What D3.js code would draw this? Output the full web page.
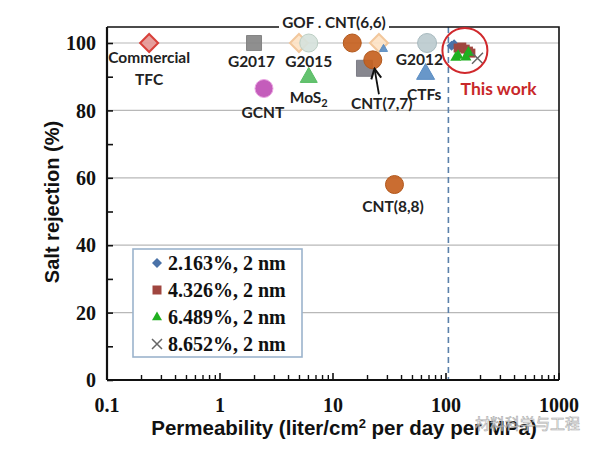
<!DOCTYPE html>
<html><head><meta charset="utf-8">
<script src="https://cdn.jsdelivr.net/npm/d3@7"></script>
<style>body{margin:0;background:#fff}svg{display:block}</style>
</head><body><svg id="c" width="600" height="453"></svg>
<script>
// ---- data ----
const xTicks = [0.1, 1, 10, 100, 1000];
const yTicks = [0, 20, 40, 60, 80, 100];
const litNames  = ["Commercial TFC","G2017","G2015 (a)","G2015 (b)","MoS2","GCNT","CNT(6,6)","GOF","GOF tri","grey sq","CNT(7,7)","G2012","CTFs","CNT(8,8)"];
const litX      = [0.236, 2.0, 5.0, 6.1, 6.1, 2.45, 14.8, 25.5, 28, 19, 22.5, 68, 66, 35];
const litY      = [100, 100, 100, 100, 90, 86.5, 100, 100, 98.3, 92.5, 95, 100, 91, 58];
const litShape  = ["diamond","square","diamond","circle","triangle","circle","circle","diamond","triangle","square","circle","circle","triangle","circle"];
const litFill   = ["#e59795","#858585","#fde3c6","#d6e2dc","#57bd63","#bf4fb5","#c6611f","#fde3c6","#5d8fc4","#7d7d86","#c6611f","#bccbcf","#5b8ec4","#c6611f"];
const litStroke = ["#d8403a","#858585","#f2c79c","#bccfc4","#57bd63","#eaa4e2","#b2581c","#f2c79c","#5d8fc4","#7d7d86","#b2581c","#a8babf","#5b8ec4","#b2581c"];
const litSize   = [9, 15, 9, 18, 17, 18, 18, 9, 8, 16, 18, 19, 18, 18];

const labelText = ["Commercial","TFC","G2017","G2015","GCNT","G2012","CTFs","CNT(8,8)","CNT(7,7)"];
const labelX    = [0.236, 0.236, 1.9, 6.1, 2.4, 58, 64, 34, 27];
const labelY    = [95.6, 89.3, 94.6, 94.6, 79.3, 95.2, 84.6, 51.4, 82];

const seriesNames = ["2.163%, 2 nm","4.326%, 2 nm","6.489%, 2 nm","8.652%, 2 nm"];
const seriesX = [[112, 118], [128, 138, 148, 158, 166], [122, 128, 150, 158], [190]];
const seriesY = [[99.2, 99.6], [98.5, 98.8, 98.2, 97.6, 97.0], [95.8, 96.4, 95.9, 97.3], [95.5]];
const seriesColor = ["#4a72a8","#a0463f","#20b020","#666666"];
const seriesShape = ["diamond","square","triangle","cross"];

// ---- layout ----
const svg = d3.select("#c");
const L = 107, R = 559, T = 27, B = 380;
const x = d3.scaleLog().domain([0.1, 1000]).range([L, R]);
const y = d3.scaleLinear().domain([0, 104.75]).range([B, T]);

function shapePath(shape, s) {
  const p = d3.path();
  if (shape === "circle") { p.arc(0, 0, s / 2, 0, 2 * Math.PI); }
  else if (shape === "square") { p.rect(-s / 2, -s / 2, s, s); }
  else if (shape === "diamond") { p.moveTo(0, -s); p.lineTo(s, 0); p.lineTo(0, s); p.lineTo(-s, 0); p.closePath(); }
  else if (shape === "triangle") { const h = s * 0.88; p.moveTo(0, -h * 0.62); p.lineTo(s / 2, h * 0.38); p.lineTo(-s / 2, h * 0.38); p.closePath(); }
  else if (shape === "cross") { const r = s / 2; p.moveTo(-r, -r); p.lineTo(r, r); p.moveTo(r, -r); p.lineTo(-r, r); }
  return p.toString();
}

// gridlines
svg.append("g").selectAll("line").data(yTicks.filter(d => d > 0)).join("line")
  .attr("x1", L).attr("x2", R).attr("y1", d => y(d)).attr("y2", d => y(d))
  .attr("stroke", "#b8b8b8").attr("stroke-width", 1.2);

// dashed line
svg.append("line").attr("x1", x(105)).attr("x2", x(105)).attr("y1", T).attr("y2", B)
  .attr("stroke", "#5a80aa").attr("stroke-width", 1.6).attr("stroke-dasharray", "6,4");

// frame
svg.append("path").attr("d", `M${L},${T}H${R}V${B}`).attr("fill", "none").attr("stroke", "#111").attr("stroke-width", 1.6);

// axes
const yAxis = d3.axisLeft(y).tickValues(d3.range(0, 101, 10)).tickSize(-6).tickFormat("");
svg.append("g").attr("transform", `translate(${L},0)`).call(yAxis)
  .call(g => g.select(".domain").attr("stroke", "#111").attr("stroke-width", 2.2).attr("d", `M0,${B}V${T}`))
  .call(g => g.selectAll(".tick line").attr("stroke", "#111").attr("stroke-width", 1.6));
svg.append("g").selectAll("text").data(yTicks).join("text")
  .attr("x", 96).attr("y", d => y(d)).attr("dy", "0.36em").attr("text-anchor", "end")
  .attr("font-family", "Liberation Serif").attr("font-weight", "bold").attr("font-size", 20)
  .attr("fill", "#111").text(d => d);

const minorX = [];
for (let e = -1; e < 3; e++) for (let m = 2; m <= 9; m++) minorX.push(m * Math.pow(10, e));
const xAxis = d3.axisBottom(x).tickValues(minorX).tickSize(-5).tickFormat("");
svg.append("g").attr("transform", `translate(0,${B})`).call(xAxis)
  .call(g => g.select(".domain").attr("stroke", "#111").attr("stroke-width", 2.2).attr("d", `M${L},0H${R}`))
  .call(g => g.selectAll(".tick line").attr("stroke", "#111").attr("stroke-width", 1.4));
svg.append("g").selectAll("line").data(xTicks).join("line")
  .attr("x1", d => x(d)).attr("x2", d => x(d)).attr("y1", B).attr("y2", B - 7)
  .attr("stroke", "#111").attr("stroke-width", 1.6);
svg.append("g").selectAll("text").data(xTicks).join("text")
  .attr("x", d => x(d)).attr("y", 405).attr("dy", "0.36em").attr("text-anchor", "middle")
  .attr("font-family", "Liberation Serif").attr("font-weight", "bold").attr("font-size", 20)
  .attr("fill", "#111").text(d => d);

// titles
const xt = svg.append("text").attr("x", 344).attr("y", 435).attr("text-anchor", "middle")
  .attr("font-family", "Liberation Sans").attr("font-weight", "bold").attr("font-size", 20.5).attr("fill", "#111");
xt.append("tspan").text("Permeability (liter/cm");
xt.append("tspan").attr("dy", -7).attr("font-size", 13).text("2");
xt.append("tspan").attr("dy", 7).text(" per day per MPa)");
svg.append("text").attr("transform", "translate(59,202) rotate(-90)").attr("text-anchor", "middle")
  .attr("font-family", "Liberation Sans").attr("font-weight", "bold").attr("font-size", 20).attr("fill", "#111")
  .text("Salt rejection (%)");

// "GOF . CNT(6,6)" label over top border
svg.append("rect").attr("x", 279).attr("y", 12).attr("width", 110).attr("height", 20).attr("fill", "#fff");
svg.append("text").attr("x", 334).attr("y", 22).attr("dy", "0.36em").attr("text-anchor", "middle")
  .attr("font-family", "Lato").attr("font-weight", "bold").attr("font-size", 15.3).attr("fill", "#222")
  .text("GOF . CNT(6,6)");

// literature points
litNames.forEach((n, i) => {
  svg.append("path").attr("d", shapePath(litShape[i], litSize[i]))
    .attr("transform", `translate(${x(litX[i])},${y(litY[i])})`)
    .attr("fill", litFill[i]).attr("stroke", litStroke[i]).attr("stroke-width", litShape[i] === "diamond" ? 2 : 1)
    .attr("fill-opacity", 0.92);
});

// labels
labelText.forEach((t, i) => {
  svg.append("text").attr("x", x(labelX[i])).attr("y", y(labelY[i])).attr("dy", "0.36em")
    .attr("text-anchor", "middle").attr("font-family", "Lato").attr("font-weight", "bold")
    .attr("font-size", 15.5).attr("fill", "#222").text(t);
});
const mo = svg.append("text").attr("x", x(6.1)).attr("y", y(84)).attr("dy", "0.36em").attr("text-anchor", "middle")
  .attr("font-family", "Lato").attr("font-weight", "bold").attr("font-size", 15.5).attr("fill", "#222");
mo.append("tspan").text("MoS");
mo.append("tspan").attr("dy", 4).attr("font-size", 11).text("2");

// arrow to CNT(7,7)
svg.append("defs").append("marker").attr("id", "ah").attr("viewBox", "0 0 10 10").attr("refX", 9).attr("refY", 5)
  .attr("markerWidth", 7).attr("markerHeight", 7).attr("orient", "auto")
  .append("path").attr("d", "M1,1L9,5L1,9").attr("fill", "none").attr("stroke", "#111").attr("stroke-width", 1.6);
svg.append("line").attr("x1", x(25.5)).attr("y1", y(84.8)).attr("x2", x(23.3)).attr("y2", y(92.4))
  .attr("stroke", "#111").attr("stroke-width", 1.8).attr("marker-end", "url(#ah)");

// this work series
function drawSeriesMark(g, i, cx, cy, sz) {
  const p = g.append("path").attr("d", shapePath(seriesShape[i], sz)).attr("transform", `translate(${cx},${cy})`);
  if (seriesShape[i] === "cross") p.attr("fill", "none").attr("stroke", seriesColor[i]).attr("stroke-width", 1.5);
  else p.attr("fill", seriesColor[i]);
}
const markSize = {diamond: 5, square: 9, triangle: 11, cross: 11};
seriesNames.forEach((n, i) => {
  seriesX[i].forEach((v, j) => drawSeriesMark(svg, i, x(v), y(seriesY[i][j]), markSize[seriesShape[i]]));
});
svg.append("circle").attr("cx", x(147)).attr("cy", y(97.8)).attr("r", 22.5)
  .attr("fill", "none").attr("stroke", "#d0282c").attr("stroke-width", 2);
svg.append("text").attr("x", x(292)).attr("y", y(86.3)).attr("dy", "0.36em").attr("text-anchor", "middle")
  .attr("font-family", "Lato").attr("font-weight", "bold").attr("font-size", 17.5).attr("fill", "#c8282a")
  .text("This work");

// legend
const lg = svg.append("g").attr("transform", "translate(133,249)");
lg.append("rect").attr("width", 169).attr("height", 108).attr("fill", "#fff").attr("stroke", "#9bb3cc").attr("stroke-width", 1.6);
const legSize = {diamond: 5, square: 9, triangle: 10, cross: 10};
seriesNames.forEach((n, i) => {
  const yy = 14 + i * 27;
  drawSeriesMark(lg, i, 24, yy, legSize[seriesShape[i]]);
  lg.append("text").attr("x", 35).attr("y", yy).attr("dy", "0.34em")
    .attr("font-family", "Liberation Serif").attr("font-weight", "bold").attr("font-size", 20).attr("fill", "#111").text(n);
});

// watermark
svg.append("text").attr("x", 580).attr("y", 424).attr("dy", "0.36em").attr("text-anchor", "end")
  .attr("font-family", "Noto Sans CJK SC").attr("font-size", 15).attr("fill", "#fff").attr("stroke", "#9a9a9a")
  .attr("stroke-width", 0.6).attr("opacity", 0.85).text("材料科学与工程");
</script></body></html>
